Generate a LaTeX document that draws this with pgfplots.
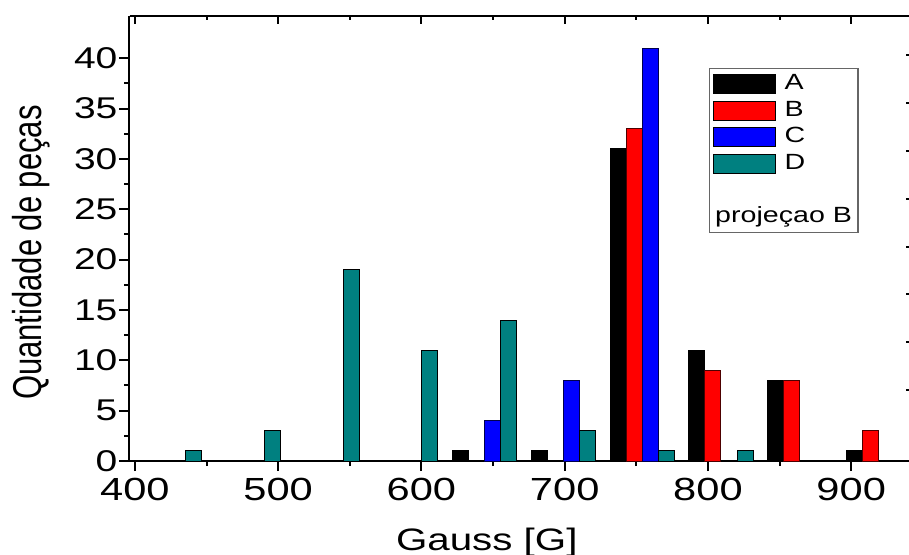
\documentclass[border=0pt]{standalone}
\usepackage{pgfplots}
\pgfplotsset{compat=1.18}
\usepackage{fontspec}
\setmainfont{Liberation Sans}[FakeStretch=1.3]
\newfontfamily\ylabfont{Liberation Sans}
\definecolor{tealD}{RGB}{0,128,128}
\begin{document}
\begin{tikzpicture}
\pgfplotsset{
  common/.style={
    scale only axis, width=392pt, height=222.65pt,
    xmin=396.2, xmax=943.5, ymin=0, ymax=44.22,
    axis line style={line width=1pt},
    every tick/.style={line width=1pt, black},
    /pgf/number format/assume math mode=true,
  }
}
\begin{axis}[common,
  axis x line*=bottom, axis y line*=left,
  tick align=outside,
  major tick length=5pt, minor tick length=2.5pt,
  xtick={400,500,...,900}, minor x tick num=1,
  ytick={0,5,...,40}, minor y tick num=1,
  xticklabel style={font=\fontsize{16}{16}\selectfont},
  yticklabel style={font=\fontsize{15}{15}\selectfont, xshift=2.5pt},
  xlabel={Gauss [G]},
  xlabel style={at={(axis description cs:0.4557,-0.1999)}, anchor=base, font=\fontsize{15.5}{15.5}\selectfont},
  ylabel={\scalebox{1}[1.3]{\fontsize{15.5}{15.5}\selectfont\ylabfont Quantidade de peças}},
  ylabel style={at={(axis description cs:-0.1119,0.468)}, anchor=base},
  ybar, bar width=11.2, bar shift=0pt,
  legend image code/.code={\draw[#1, draw=black, line width=0.5pt] (0pt,-4.75pt) rectangle (31pt,4.75pt);},
  legend cell align=left,
  legend style={at={(0.7387,0.8832)}, anchor=north west, draw=black!60, line width=0.6pt,
    font=\fontsize{11}{11}\selectfont, inner xsep=2pt, inner ysep=1.5pt,
    row sep=0.85pt, column sep=3.15pt,
    nodes={text height=8pt, text depth=2.5pt, inner sep=1pt}},
]
\addplot[fill=black, draw=black, line width=0.5pt] coordinates {(627.3,1) (682.3,1) (737.3,31) (792.3,11) (847.3,8) (902.3,1)};
\addlegendentry{A}
\addplot[fill=red, draw=black!70!red, line width=0.5pt] coordinates {(748.5,33) (803.5,9) (858.5,8) (913.5,3)};
\addlegendentry{B}
\addplot[fill=blue, draw=black!70!blue, line width=0.5pt] coordinates {(649.7,4) (704.7,8) (759.7,41)};
\addlegendentry{C}
\addplot[fill=tealD, draw=black, line width=0.5pt] coordinates {(440.9,1) (495.9,3) (550.9,19) (605.9,11) (660.9,14) (715.9,3) (770.9,1) (825.9,1)};
\addlegendentry{D}
\addlegendimage{empty legend}
\addlegendentry{}
\addlegendimage{empty legend}
\addlegendentry{\hspace{-34.65pt}projeçao B}
\end{axis}
\begin{axis}[common,
  axis x line*=top, axis y line*=right,
  tick align=inside,
  major tick length=4pt, minor tick length=2pt,
  xtick={400,500,...,900}, minor x tick num=1,
  ytick={7.06,11.8,16.57,21.3,26.04,30.82,35.56,40.29},
  xticklabels={}, yticklabels={},
]
\end{axis}
\pgfresetboundingbox
\path[use as bounding box] (-64.75pt,-46.5pt) rectangle (389.75pt,230.5pt);
\end{tikzpicture}
\end{document}
